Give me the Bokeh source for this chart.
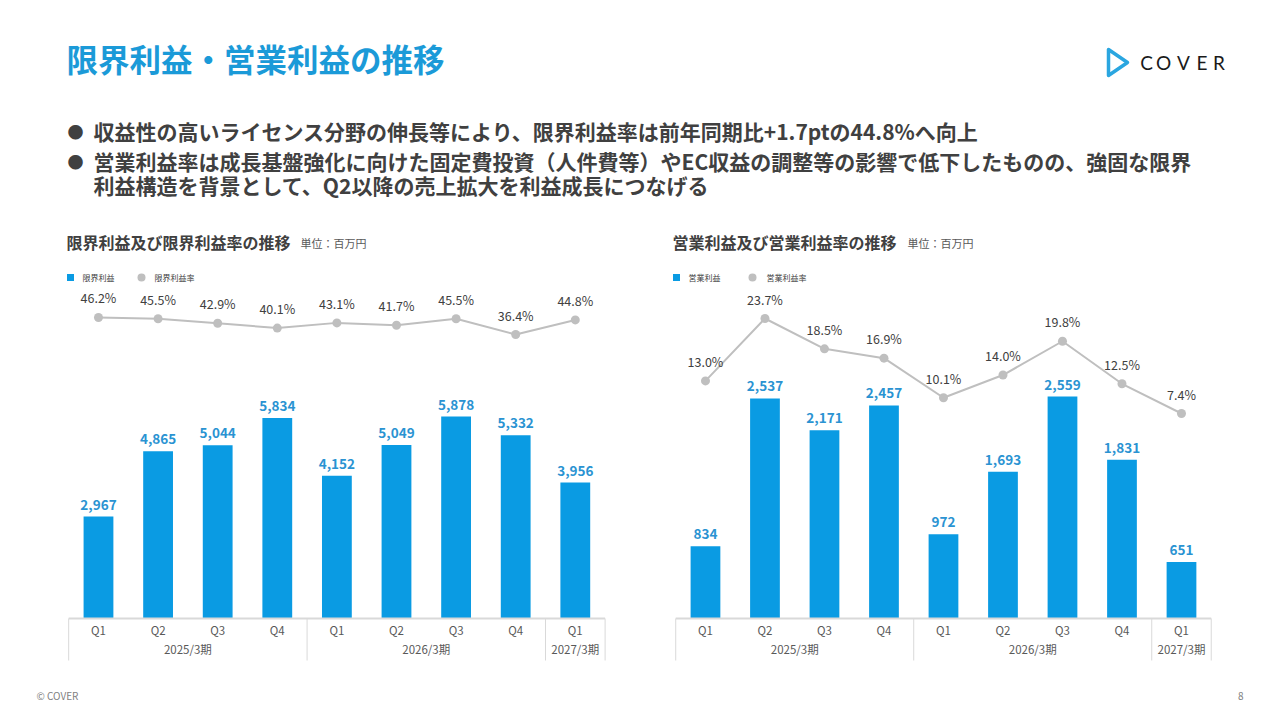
from bokeh.plotting import figure
from bokeh.layouts import column, row
from bokeh.models import Range1d, ColumnDataSource
from bokeh.core.properties import value
from bokeh.embed import file_html
from bokeh.resources import INLINE

# data
quarters = ["Q1", "Q2", "Q3", "Q4", "Q1", "Q2", "Q3", "Q4", "Q1"]
periods = ["2025/3期", "2026/3期", "2027/3期"]
period_len = [4, 4, 1]

marginal_profit = [2967, 4865, 5044, 5834, 4152, 5049, 5878, 5332, 3956]
marginal_rate = [46.2, 45.5, 42.9, 40.1, 43.1, 41.7, 45.5, 36.4, 44.8]
op_profit = [834, 2537, 2171, 2457, 972, 1693, 2559, 1831, 651]
op_rate = [13.0, 23.7, 18.5, 16.9, 10.1, 14.0, 19.8, 12.5, 7.4]

FONT = value("Noto Sans CJK JP")
BLUE = "#0a9be3"
TITLE_BLUE = "#1b9ad8"
LABEL_BLUE = "#2a93d2"
GRAY = "#bfbfbf"
DARK = "#404040"
W = 1280


def blank(width, height, x_range, y_range):
    p = figure(width=width, height=height, x_range=x_range, y_range=y_range,
               output_backend="svg", toolbar_location=None,
               x_axis_location=None, y_axis_location=None,
               min_border=0, outline_line_color=None)
    p.grid.visible = False
    p.background_fill_color = "white"
    p.border_fill_color = "white"
    return p


# header: title, logo, bullets, chart titles and legends (pixel coords, y down)
head = blank(W, 288, Range1d(0, W), Range1d(288, 0))
head.text(x=[66], y=[57], text=["限界利益・営業利益の推移"], text_font=FONT,
          text_font_size="31.5px", text_font_style="bold", text_color=TITLE_BLUE,
          text_baseline="middle")

# logo
head.patch(x=[1108, 1108, 1127], y=[49, 75, 62], fill_color=None,
           line_color="#2aa6e0", line_width=3.5, line_join="round")
for ch, cx in zip("COVER", [1146, 1163, 1183, 1201.5, 1218.5]):
    head.text(x=[cx], y=[62], text=[ch], text_font=value("Lato"),
              text_font_size="19px", text_color="#1a1a1a",
              text_align="center", text_baseline="middle")

bullets = [
    "収益性の高いライセンス分野の伸長等により、限界利益率は前年同期比+1.7ptの44.8%へ向上",
    "営業利益率は成長基盤強化に向けた固定費投資（人件費等）やEC収益の調整等の影響で低下したものの、強固な限界",
    "利益構造を背景として、Q2以降の売上拡大を利益成長につなげる",
]
head.text(x=[93, 93, 93], y=[130, 160, 184], text=bullets, text_font=FONT,
          text_font_size="21px", text_font_style="bold", text_color=DARK,
          text_baseline="middle")
head.text(x=[75, 75], y=[130, 160], text=["●", "●"], text_font=FONT,
          text_font_size="16px", text_color=DARK, text_align="center",
          text_baseline="middle")

for x0, title, unit_x, legend, legend_x in [
        (66, "限界利益及び限界利益率の推移", 300, ["限界利益", "限界利益率"],
         [70, 82, 141, 154]),
        (672, "営業利益及び営業利益率の推移", 907, ["営業利益", "営業利益率"],
         [676, 688, 752, 766])]:
    head.text(x=[x0], y=[241], text=[title], text_font=FONT,
              text_font_size="16px", text_font_style="bold", text_color=DARK,
              text_baseline="middle")
    head.text(x=[unit_x], y=[242], text=["単位：百万円"], text_font=FONT,
              text_font_size="11px", text_color="#595959", text_baseline="middle")
    head.rect(x=[legend_x[0]], y=[277], width=7, height=7, fill_color=BLUE,
              line_color=None)
    head.text(x=[legend_x[1]], y=[277], text=[legend[0]], text_font=FONT,
              text_font_size="8px", text_color=DARK, text_baseline="middle")
    head.scatter(x=[legend_x[2]], y=[277], size=8, fill_color=GRAY,
                 line_color=None)
    head.text(x=[legend_x[3]], y=[277], text=[legend[1]], text_font=FONT,
              text_font_size="8px", text_color=DARK, text_baseline="middle")


def chart(bars, rates, x_rng, bar_rng, rate_rng, upp):
    p = blank(640, 387, Range1d(*x_rng), Range1d(*bar_rng))
    p.extra_y_ranges = {"rate": Range1d(*rate_rng)}
    idx = list(range(len(bars)))
    src = ColumnDataSource(dict(
        x=idx, bar=bars, rate=rates,
        bar_txt=[f"{v:,}" for v in bars],
        rate_txt=[f"{v:.1f}%" for v in rates],
        q=quarters))

    p.vbar(x="x", top="bar", width=0.5, source=src, fill_color=BLUE,
           line_color=None)
    p.text(x="x", y="bar", text="bar_txt", source=src, text_font=FONT,
           text_font_size="13.5px", text_font_style="bold",
           text_color=LABEL_BLUE, text_align="center",
           text_baseline="bottom", y_offset=-7)

    p.line(x="x", y="rate", source=src, y_range_name="rate", line_color=GRAY,
           line_width=2)
    p.scatter(x="x", y="rate", source=src, y_range_name="rate", size=9,
              fill_color=GRAY, line_color=None)
    p.text(x="x", y="rate", text="rate_txt", source=src, y_range_name="rate",
           text_font=FONT, text_font_size="12.5px", text_color=DARK,
           text_align="center", text_baseline="bottom", y_offset=-10)

    # category axis drawn as a table below the bars
    n = len(bars)
    p.segment(x0=[-0.5], y0=[0], x1=[n - 0.5], y1=[0], line_color="#d9d9d9",
              line_width=2)
    edges = [-0.5]
    for k in period_len:
        edges.append(edges[-1] + k)
    p.segment(x0=edges, y0=[0] * len(edges), x1=edges,
              y1=[-42 * upp] * len(edges), line_color="#d9d9d9", line_width=1)
    p.text(x="x", y=0, text="q", source=src, text_font=FONT,
           text_font_size="11.5px", text_color="#595959", text_align="center",
           text_baseline="middle", y_offset=11)
    centers = [(a + b) / 2 for a, b in zip(edges[:-1], edges[1:])]
    p.text(x=centers, y=[0] * len(centers), text=periods, text_font=FONT,
           text_font_size="11.5px", text_color="#595959", text_align="center",
           text_baseline="middle", y_offset=30)
    return p


left = chart(marginal_profit, marginal_rate, (-1.644, 9.094),
             (-57 * 29.1, 330 * 29.1), (-160.1, 62.91), 29.1)
right = chart(op_profit, op_rate, (-1.092, 9.664),
              (-57 * 11.53, 330 * 11.53), (-37.55, 28.85), 11.53)

foot = blank(W, 45, Range1d(0, W), Range1d(720, 675))
foot.text(x=[36], y=[695], text=["© COVER"], text_font=FONT,
          text_font_size="10px", text_color="#7f7f7f", text_baseline="middle")
foot.text(x=[1243], y=[695], text=["8"], text_font=FONT, text_font_size="10px",
          text_color="#7f7f7f", text_align="right", text_baseline="middle")

layout = column(head, row(left, right, spacing=0), foot, spacing=0)

open("out.html", "w").write(file_html(layout, INLINE))
